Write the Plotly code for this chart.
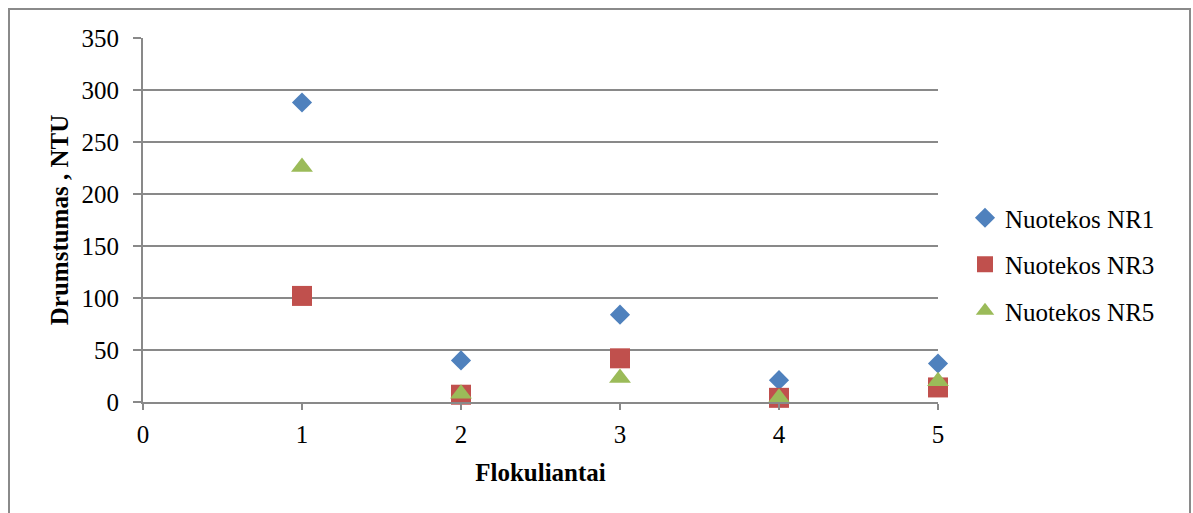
import plotly.graph_objects as go

# Turbidity after flocculation, per flocculant number
flocculants = [1, 2, 3, 4, 5]
nr1 = [288, 40, 84, 21, 37]
nr3 = [102, 7, 42, 4, 14]
nr5 = [226, 8, 23, 4, 20]

series_names = ["Nuotekos NR1", "Nuotekos NR3", "Nuotekos NR5"]
y_ticks = [0, 50, 100, 150, 200, 250, 300, 350]
x_ticks = [0, 1, 2, 3, 4, 5]

FONT = "Liberation Serif, serif"
GRID = "#898989"

fig = go.Figure()
styles = [("diamond", 15.5, "#4F81BD"), ("square", 20, "#C0504D"), ("triangle-up", 19, "#9BBB59")]
for name, ys, (sym, sz, col) in zip(series_names, [nr1, nr3, nr5], styles):
    fig.add_trace(go.Scatter(x=flocculants, y=ys, mode="markers", name=name,
                             legendgroup=name, cliponaxis=False,
                             marker=dict(symbol=sym, size=sz, color=col, line=dict(width=0))))

W, H = 1193, 513
L, R, T, B = 143, 938, 38, 402
pw, ph = R - L, B - T

def px_x(p):
    return (p - L) / pw

def px_y(p):
    return (B - p) / ph

# outer chart frame
fig.add_shape(type="rect", xref="paper", yref="paper",
              x0=px_x(9), x1=px_x(1190), y0=px_y(9), y1=px_y(520),
              line=dict(color="#8a8a8a", width=2), fillcolor="rgba(0,0,0,0)", layer="below")

fig.update_layout(
    width=W, height=H,
    margin=dict(l=L, r=W - R, t=T, b=H - B),
    paper_bgcolor="white", plot_bgcolor="white",
    font=dict(family=FONT, size=25, color="black"),
    showlegend=True,
    legend=dict(x=px_x(965), y=px_y(195), xanchor="left", yanchor="top",
                font=dict(family=FONT, size=25, color="black"),
                traceorder="grouped", tracegroupgap=11, itemwidth=30,
                bgcolor="rgba(0,0,0,0)"),
    xaxis=dict(range=[0, 5], tickvals=x_ticks, showgrid=False, zeroline=False,
               showline=True, linecolor=GRID, linewidth=2,
               ticks="outside", ticklen=6, tickcolor=GRID, tickwidth=2,
               tickfont=dict(family=FONT, size=25), ticklabelstandoff=3,
               title=dict(text="<b>Flokuliantai</b>", font=dict(family=FONT, size=25),
                          standoff=16)),
    yaxis=dict(range=[0, 350], tickvals=y_ticks, showgrid=True, gridcolor=GRID, gridwidth=2,
               zeroline=False, showline=True, linecolor=GRID, linewidth=2,
               ticks="outside", ticklen=8, tickcolor=GRID, tickwidth=2,
               tickfont=dict(family=FONT, size=25), ticklabelstandoff=9,
               title=dict(text="<b>Drumstumas , NTU</b>", font=dict(family=FONT, size=25),
                          standoff=6)),
)

fig.write_html("out.html")
